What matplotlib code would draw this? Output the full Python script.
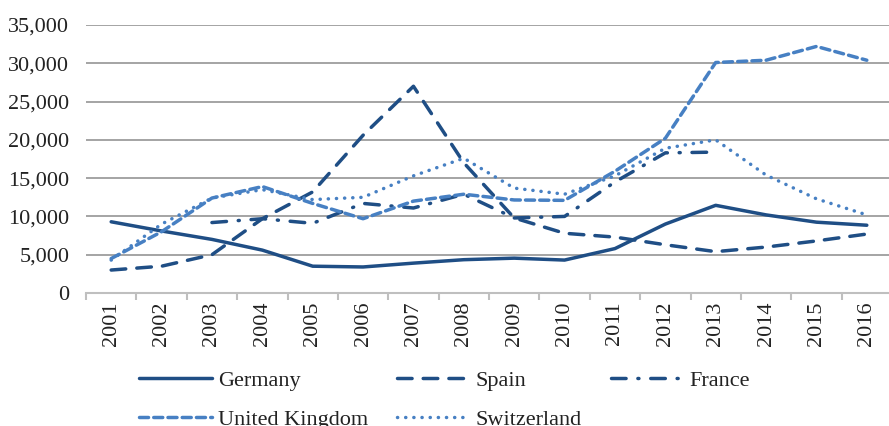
import numpy as np
import matplotlib
matplotlib.use("Agg")
import matplotlib.pyplot as plt
from matplotlib.ticker import FuncFormatter, FixedLocator

years = [str(y) for y in range(2001, 2017)]
nan = np.nan

germany = [9300, 8100, 7000, 5600, 3500, 3400, 3900, 4350, 4550, 4300, 5800, 9000, 11450, 10200, 9250, 8850]
spain = [3000, 3500, 5000, 9700, 13200, 20600, 27000, 17000, 9800, 7800, 7300, 6300, 5400, 6000, 6800, 7700]
france = [nan, nan, 9200, 9700, 9100, 11700, 11100, 12900, 9800, 10000, 14500, 18300, 18400, nan, nan, nan]
uk = [4500, 8000, 12400, 13900, 11700, 9700, 12000, 12900, 12150, 12100, 15900, 20200, 30100, 30400, 32200, 30400]
switzerland = [4300, 9000, 12400, 13500, 12200, 12500, 15300, 17600, 13700, 12900, 15300, 18900, 20000, 15400, 12300, 10200]

dark = "#1F4E85"
light = "#4780C3"
fs = 16

plt.rcParams['font.family'] = ['Liberation Serif', 'DejaVu Serif']

fig = plt.figure(figsize=(8.89, 4.26), dpi=100)
W, H = 889, 426
ax = fig.add_axes([86 / W, 1 - 293 / H, (892 - 86) / W, (293 - 25) / H])

x = np.arange(len(years))
lw = 2.5
l_ger, = ax.plot(x, germany, color=dark, lw=lw, solid_capstyle='round', solid_joinstyle='round', label="Germany")
l_spa, = ax.plot(x, spain, color=dark, lw=lw, dashes=(4.2, 3.2), dash_capstyle='round', label="Spain")
l_fra, = ax.plot(x, france, color=dark, lw=lw, dashes=(4.2, 3.4, 0.3, 3.4), dash_capstyle='round', label="France")
l_uk, = ax.plot(x, uk, color=light, lw=lw, dashes=(2.6, 1.5), dash_capstyle='round', label="United Kingdom")
l_swi, = ax.plot(x, switzerland, color=light, lw=lw, dashes=(0.05, 2.3), dash_capstyle='round', label="Switzerland")

ax.set_xlim(-0.5, len(years) - 0.5)
ax.set_ylim(0, 35000)
ax.set_yticks(np.arange(0, 35001, 5000))
ax.yaxis.set_major_formatter(FuncFormatter(lambda v, p: f"{int(v):,}"))
ax.grid(axis='y', color='#8C8C8C', lw=1.1)
ax.set_axisbelow(True)

for s in ['top', 'right', 'left']:
    ax.spines[s].set_visible(False)
ax.spines['bottom'].set_color('#BFBFBF')
ax.spines['bottom'].set_linewidth(1.5)

ax.set_xticks(x)
ax.set_xticklabels(years, rotation=90)
ax.xaxis.set_minor_locator(FixedLocator(np.arange(-0.5, len(years), 1.0)))
ax.tick_params(axis='x', which='major', length=0, pad=6, labelsize=fs, labelcolor='#222222')
ax.tick_params(axis='x', which='minor', length=5, width=1.5, color='#BFBFBF')
ax.tick_params(axis='y', length=0, pad=12, labelsize=fs, labelcolor='#222222')

handles = [l_ger, l_uk, l_spa, l_swi, l_fra]
fig.legend(handles=handles, labels=[h.get_label() for h in handles],
           ncol=3, loc='upper left', bbox_to_anchor=(139 / W, 1 - 370 / H),
           frameon=False, fontsize=fs, handlelength=3.3, handletextpad=0.25,
           columnspacing=1.3, labelspacing=0.85, borderpad=0, borderaxespad=0,
           labelcolor='#222222')

fig.savefig("out.png", dpi=100)
